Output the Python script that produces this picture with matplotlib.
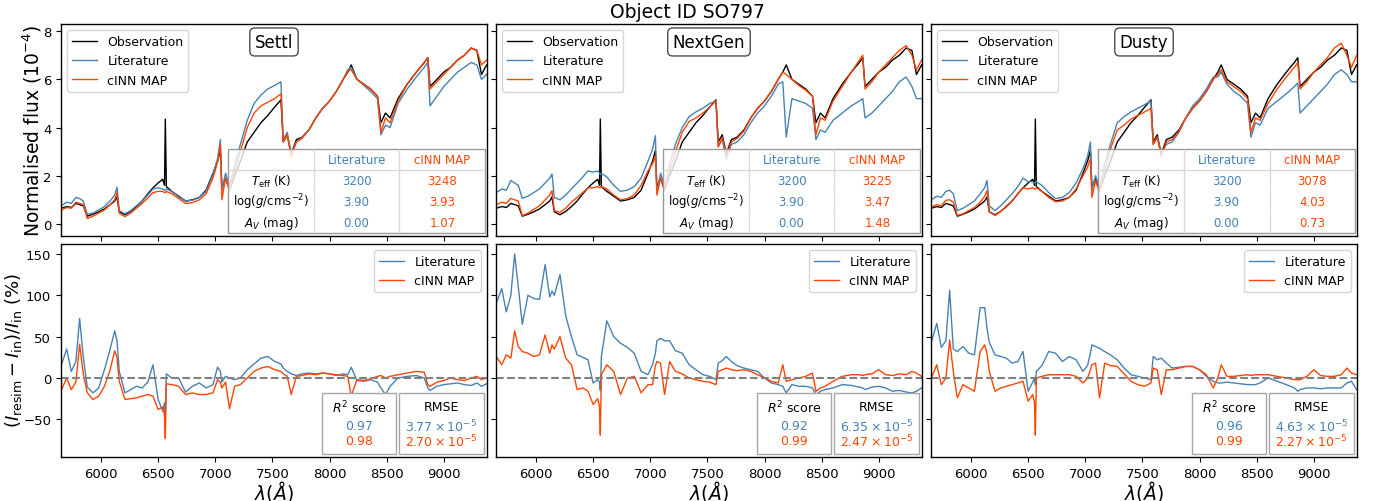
import numpy as np
import matplotlib.pyplot as plt
from matplotlib.patches import Rectangle

# wavelength grid (Angstrom)
wave = [5652, 5700, 5740, 5780, 5813, 5845, 5880, 5930, 5980, 6030,
        6080, 6120, 6140, 6160, 6210, 6260, 6310, 6360, 6410, 6455,
        6500, 6540, 6556, 6563, 6572, 6620, 6680, 6740, 6800, 6860,
        6920, 6980, 7020, 7045, 7058, 7090, 7125, 7170, 7220, 7280,
        7340, 7400, 7460, 7520, 7575, 7595, 7630, 7665, 7710, 7760,
        7820, 7880, 7940, 8000, 8060, 8120, 8160, 8190, 8240, 8300,
        8360, 8420, 8450, 8490, 8530, 8600, 8680, 8760, 8830, 8860,
        8880, 8940, 9000, 9060, 9120, 9180, 9240, 9290, 9330, 9375]

# normalised flux (1e-4)
obs_flux = [0.65, 0.72, 0.68, 0.85, 0.80, 0.75, 0.32, 0.40, 0.50, 0.62,
            0.80, 0.95, 1.12, 0.50, 0.38, 0.52, 0.72, 0.95, 1.25, 1.50,
            1.70, 1.85, 1.60, 4.35, 1.55, 1.35, 1.15, 0.95, 1.00, 1.10,
            1.40, 2.10, 2.60, 3.05, 1.50, 1.90, 1.40, 2.00, 2.60, 3.40,
            3.80, 4.20, 4.50, 4.85, 5.15, 3.40, 3.70, 2.90, 3.50, 3.60,
            3.90, 4.40, 4.80, 5.10, 5.50, 6.00, 6.30, 6.60, 6.00, 5.80,
            5.60, 5.30, 4.20, 4.60, 4.40, 5.20, 5.80, 6.30, 6.70, 6.90,
            5.70, 6.00, 6.30, 6.50, 6.80, 7.00, 7.30, 7.20, 6.20, 6.60]

lit_settl = [0.75, 0.90, 0.85, 1.10, 1.05, 0.95, 0.40, 0.45, 0.58, 0.72,
             0.95, 1.20, 1.52, 0.55, 0.42, 0.55, 0.75, 0.95, 1.20, 1.45,
             1.50, 1.45, 1.40, 1.40, 1.45, 1.35, 1.12, 0.95, 0.98, 1.10,
             1.35, 2.05, 2.70, 3.50, 1.40, 2.10, 1.60, 2.40, 3.30, 4.30,
             5.00, 5.35, 5.60, 5.75, 5.90, 3.50, 3.80, 2.90, 3.40, 3.60,
             3.90, 4.40, 4.80, 5.10, 5.50, 6.00, 6.40, 6.50, 6.00, 5.75,
             5.50, 5.20, 3.70, 4.10, 4.00, 5.00, 5.60, 6.10, 6.50, 6.70,
             4.90, 5.30, 5.70, 6.00, 6.30, 6.50, 6.70, 6.60, 6.00, 6.20]
map_settl = [0.58, 0.68, 0.65, 0.90, 0.85, 0.80, 0.22, 0.32, 0.45, 0.58,
             0.80, 1.00, 1.30, 0.45, 0.30, 0.45, 0.65, 0.85, 1.08, 1.30,
             1.35, 1.35, 1.30, 1.30, 1.35, 1.25, 1.05, 0.85, 0.88, 1.00,
             1.25, 1.90, 2.55, 3.30, 1.00, 1.90, 1.40, 2.20, 3.00, 4.00,
             4.60, 4.90, 5.05, 5.20, 5.40, 3.40, 3.70, 2.80, 3.40, 3.55,
             3.90, 4.40, 4.80, 5.10, 5.50, 6.00, 6.35, 6.40, 6.00, 5.80,
             5.60, 5.30, 3.80, 4.40, 4.20, 5.10, 5.80, 6.30, 6.70, 6.90,
             5.60, 5.90, 6.20, 6.50, 6.80, 7.00, 7.30, 7.20, 6.60, 6.80]

lit_nextgen = [1.30, 1.45, 1.40, 1.80, 1.70, 1.60, 1.06, 1.15, 1.30, 1.45,
               1.70, 1.90, 2.07, 1.10, 1.00, 1.20, 1.45, 1.70, 1.95, 2.20,
               2.15, 2.20, 2.10, 2.05, 2.10, 1.95, 1.60, 1.35, 1.40, 1.55,
               1.90, 2.60, 3.10, 3.66, 1.30, 2.10, 1.60, 2.50, 3.30, 4.00,
               4.45, 4.65, 4.80, 5.00, 5.10, 3.20, 3.50, 2.70, 3.30, 3.40,
               3.70, 4.20, 4.60, 4.90, 5.30, 5.80, 5.90, 3.60, 5.20, 5.10,
               5.00, 4.80, 3.50, 3.90, 3.80, 4.30, 4.60, 4.90, 5.10, 5.20,
               4.40, 4.60, 4.90, 5.20, 5.50, 5.90, 6.10, 5.70, 5.20, 5.20]
map_nextgen = [0.80, 0.90, 0.85, 1.06, 1.00, 0.95, 0.34, 0.45, 0.60, 0.75,
               1.00, 1.20, 1.38, 0.55, 0.48, 0.65, 0.90, 1.10, 1.30, 1.50,
               1.50, 1.55, 1.50, 1.50, 1.55, 1.45, 1.20, 1.00, 1.05, 1.20,
               1.60, 2.20, 2.50, 2.80, 1.20, 1.90, 1.40, 2.20, 3.00, 3.80,
               4.25, 4.40, 4.60, 4.85, 5.10, 3.20, 3.60, 2.80, 3.40, 3.55,
               3.85, 4.40, 4.80, 5.10, 5.50, 6.00, 6.30, 6.20, 6.00, 5.75,
               5.55, 5.30, 3.70, 4.40, 4.30, 5.10, 5.70, 6.30, 6.80, 7.00,
               5.60, 5.90, 6.30, 6.60, 6.90, 7.20, 7.40, 7.00, 6.40, 6.80]

lit_dusty = [1.00, 1.15, 1.10, 1.35, 1.40, 1.25, 0.55, 0.65, 0.80, 0.95,
             1.25, 1.50, 1.80, 0.75, 0.55, 0.75, 1.00, 1.25, 1.55, 1.90,
             1.75, 1.75, 1.70, 1.70, 1.75, 1.60, 1.30, 1.05, 1.10, 1.30,
             1.70, 2.30, 2.80, 3.40, 1.40, 2.00, 1.50, 2.50, 3.30, 4.20,
             4.45, 4.65, 4.80, 4.95, 5.10, 3.30, 3.60, 2.90, 3.30, 3.40,
             3.80, 4.40, 4.90, 5.20, 5.60, 6.10, 6.10, 6.30, 5.80, 5.50,
             5.30, 5.00, 3.60, 4.20, 4.10, 4.80, 5.10, 5.40, 5.70, 5.85,
             4.60, 4.90, 5.20, 5.50, 5.80, 6.20, 6.40, 6.20, 5.90, 5.90]
map_dusty = [0.70, 0.80, 0.75, 0.98, 1.00, 0.90, 0.35, 0.42, 0.55, 0.68,
             0.90, 1.15, 1.38, 0.50, 0.35, 0.52, 0.75, 0.95, 1.25, 1.50,
             1.45, 1.50, 1.45, 1.45, 1.50, 1.35, 1.10, 0.92, 0.95, 1.10,
             1.45, 2.00, 2.35, 2.70, 1.10, 1.80, 1.30, 2.20, 3.10, 3.90,
             4.10, 4.35, 4.50, 4.65, 4.80, 3.30, 3.60, 2.80, 3.40, 3.50,
             3.85, 4.40, 4.80, 5.10, 5.50, 6.00, 6.20, 6.40, 5.90, 5.70,
             5.50, 5.20, 3.80, 4.40, 4.30, 5.00, 5.60, 6.10, 6.50, 6.70,
             5.60, 5.90, 6.30, 6.60, 6.90, 7.30, 7.50, 7.00, 6.50, 7.00]

# resimulation residuals (%)
res_lit_settl = [15, 35, 8, 20, 72, 25, -11, -18, -12, 10,
                 35, 57, 45, 8, -18, -14, -10, -12, -5, 16,
                 -26, -40, -30, -45, 5, 0, 0, -17, -10, -6,
                 -12, -8, 13, 8, -5, 2, 0, -2, 0, 10,
                 17, 24, 26, 20, 17, 12, 8, 5, 3, 5,
                 6, 5, 6, 5, 3, 5, 4, 13, -3, -4,
                 -2, -5, -12, -20, -10, 0, 2, 3, 0, -12,
                 -15, -10, -8, -7, -6, -8, -9, -6, -10, -7]
res_map_settl = [-15, 0, -14, -5, 41, 5, -18, -26, -22, -10,
                 10, 33, 25, -4, -26, -25, -24, -22, -20, -22,
                 -38, -35, -45, -73, -7, -8, -10, -20, -18, -20,
                 -20, -18, -2, -5, -12, -5, -37, -10, -8, 0,
                 8, 12, 14, 10, 8, 5, 2, -20, 2, 3,
                 5, 4, 6, 5, 4, 3, 2, -22, -2, -3,
                 -1, 2, 3, 0, 2, 4, 6, 8, 7, -8,
                 -10, -5, -3, 0, -2, -3, 0, 2, -2, 0]

res_lit_nextgen = [90, 108, 80, 100, 150, 110, 65, 100, 96, 95,
                   137, 98, 105, 100, 125, 75, 50, 28, 25, 22,
                   -6, -2, -5, -15, 26, 69, 50, 42, 37, 30,
                   8, 4, 16, 30, 45, 48, 45, 45, 33, 30,
                   16, 10, 4, 2, -2, 18, 21, 26, 20, 15,
                   12, 10, 8, 0, -6, -8, -10, -18, -8, -10,
                   -10, -12, -20, -16, -14, -12, -8, -9, -11, -12,
                   -14, -11, -10, -12, -16, -15, -17, -18, -16, -12]
res_map_nextgen = [26, 16, 28, 24, 57, 38, 32, 30, 26, 28,
                   52, 30, 40, 35, 50, 24, 16, -14, -12, -16,
                   -32, -25, -35, -69, 4, 16, 8, -20, 0, 2,
                   -18, -8, -8, 15, 20, 18, -20, 20, 8, 5,
                   0, -2, -4, -5, -8, 8, 10, 12, 10, 9,
                   10, 8, 4, 0, -4, -6, 16, -4, -2, 0,
                   2, 6, -16, -12, -10, -4, 2, 4, 4, 3,
                   4, 5, 10, 4, 3, 5, 4, 8, 6, 2]

res_lit_dusty = [43, 66, 37, 45, 106, 35, 32, 38, 30, 28,
                 85, 85, 60, 43, 28, 26, 24, 18, 20, 32,
                 -16, -5, 0, -8, 8, 15, 32, 30, 20, 26,
                 22, 8, 15, 30, 40, 38, 36, 32, 28, 22,
                 12, 4, 2, 0, -2, 26, 22, 24, 18, 12,
                 13, 14, 14, 10, 2, -4, -6, -6, -5, -6,
                 -7, -8, -8, -8, -6, 0, -4, -8, -12, -16,
                 -14, -12, -12, -13, -12, -12, -12, -6, -4, -14]
res_map_dusty = [0, 16, -8, 0, 46, 8, -24, -8, -12, -16,
                 32, 40, 30, 8, -16, -12, -10, -8, -6, -4,
                 -28, -20, -30, -69, 0, 2, 4, 4, 4, 4,
                 2, -6, 0, 10, 16, 18, -24, 18, 15, 14,
                 5, -4, -8, -10, -6, 12, 10, -20, 10, 10,
                 12, 14, 14, 10, 4, -12, 0, 16, 2, 2,
                 3, 4, 3, 4, 4, 4, 2, 0, -2, -2,
                 -2, 2, 10, 3, 2, 2, 4, 12, 6, 4]

models = ['Settl', 'NextGen', 'Dusty']
lit_spec = [lit_settl, lit_nextgen, lit_dusty]
map_spec = [map_settl, map_nextgen, map_dusty]
lit_res = [res_lit_settl, res_lit_nextgen, res_lit_dusty]
map_res = [res_map_settl, res_map_nextgen, res_map_dusty]

lit_teff, lit_logg, lit_av = 3200, 3.90, 0.00
map_teff = [3248, 3225, 3078]
map_logg = [3.93, 3.47, 4.03]
map_av = [1.07, 1.48, 0.73]
r2_lit = [0.97, 0.92, 0.96]
r2_map = [0.98, 0.99, 0.99]
rmse_lit = [3.77, 6.35, 4.63]
rmse_map = [2.70, 2.47, 2.27]

LIT = 'steelblue'
MAP = 'orangered'

fig = plt.figure(figsize=(13.74, 5.02), dpi=100)
lefts = [0.0444, 0.3610, 0.6776]
width = 0.3100

top_axes, bot_axes = [], []
for i in range(3):
    at = fig.add_axes([lefts[i], 0.528, width, 0.4223],
                      sharey=top_axes[0] if i else None)
    ab = fig.add_axes([lefts[i], 0.0876, width, 0.4244], sharex=at,
                      sharey=bot_axes[0] if i else None)
    top_axes.append(at)
    bot_axes.append(ab)

for i in range(3):
    at, ab = top_axes[i], bot_axes[i]

    at.plot(wave, obs_flux, color='black', lw=1, label='Observation')
    at.plot(wave, lit_spec[i], color=LIT, lw=1, label='Literature')
    at.plot(wave, map_spec[i], color=MAP, lw=1, label='cINN MAP')
    at.legend(loc='upper left', fontsize=9)
    at.text(0.5, 0.915, models[i], transform=at.transAxes, ha='center',
            va='center', fontsize=12,
            bbox=dict(boxstyle='round,pad=0.3', fc='white', ec='0.3'))

    # parameter table
    x0, y0, x1, y1 = 0.392, 0.014, 0.996, 0.41
    at.add_patch(Rectangle((x0, y0), x1 - x0, y1 - y0, transform=at.transAxes,
                           fc=(1, 1, 1, 0.8), ec='0.6', lw=1, zorder=3))
    cells = [['', 'Literature', 'cINN MAP'],
             [r'$T_{\rm eff}$ (K)', f'{lit_teff}', f'{map_teff[i]}'],
             [r'$\log(g/{\rm cms}^{-2})$', f'{lit_logg:.2f}', f'{map_logg[i]:.2f}'],
             [r'$A_V$ (mag)', f'{lit_av:.2f}', f'{map_av[i]:.2f}']]
    tab = at.table(cellText=cells, cellLoc='center', edges='open',
                   bbox=[x0, y0, x1 - x0, y1 - y0])
    tab.auto_set_font_size(False)
    tab.set_fontsize(8.5)
    tab.set_zorder(4)
    for (r, c), cell in tab.get_celld().items():
        cell.set_facecolor('none')
        cell.set_edgecolor('0.85')
        edges = ''
        if c < 2:
            edges += 'R'
        if r == 0:
            edges += 'B'
        cell.visible_edges = edges
        cell.get_text().set_color(['black', LIT, MAP][c])

    ab.plot(wave, lit_res[i], color=LIT, lw=1, label='Literature')
    ab.plot(wave, map_res[i], color=MAP, lw=1, label='cINN MAP')
    ab.axhline(0, color='gray', ls='--', lw=1.5)
    ab.legend(loc='upper right', fontsize=9)
    ab.set_xlabel(r'$\lambda(\AA)$', fontsize=13.5, labelpad=-1)

    # score boxes
    for bx0, bx1, title, v1, v2 in [
            (0.613, 0.786, r'$R^2$ score', f'{r2_lit[i]:.2f}', f'{r2_map[i]:.2f}'),
            (0.793, 0.993, 'RMSE', rf'${rmse_lit[i]:.2f}\times10^{{-5}}$',
             rf'${rmse_map[i]:.2f}\times10^{{-5}}$')]:
        ab.add_patch(Rectangle((bx0, 0.014), bx1 - bx0, 0.286,
                               transform=ab.transAxes, fc='white', ec='0.65',
                               lw=1, zorder=3))
        xc = (bx0 + bx1) / 2
        ab.text(xc, 0.235, title, transform=ab.transAxes, ha='center',
                va='center', fontsize=9, zorder=4)
        ab.text(xc, 0.147, v1, transform=ab.transAxes, ha='center',
                va='center', fontsize=9, color=LIT, zorder=4)
        ab.text(xc, 0.077, v2, transform=ab.transAxes, ha='center',
                va='center', fontsize=9, color=MAP, zorder=4)

    for ax in (at, ab):
        ax.tick_params(labelsize=9.5)
        for s in ax.spines.values():
            s.set_linewidth(1.0)
    at.tick_params(labelbottom=False)
    if i:
        at.tick_params(labelleft=False)
        ab.tick_params(labelleft=False)

    ab.set_xlim(5650, 9378)
    ab.set_xticks([6000, 6500, 7000, 7500, 8000, 8500, 9000])

top_axes[0].set_ylim(-0.5, 8.3)
bot_axes[0].set_ylim(-95.5, 162)

fig.text(0.0235, 0.739, r'Normalised flux ($10^{-4}$)', rotation=90,
         ha='center', va='center', fontsize=13.5)
fig.text(0.0098, 0.302, r'$(I_{\rm resim} - I_{\rm in})/I_{\rm in}$ (%)',
         rotation=90, ha='center', va='center', fontsize=13)
fig.text(0.5, 0.976, 'Object ID SO797', ha='center', va='center', fontsize=13.5)

fig.savefig('out.png', dpi=100)
